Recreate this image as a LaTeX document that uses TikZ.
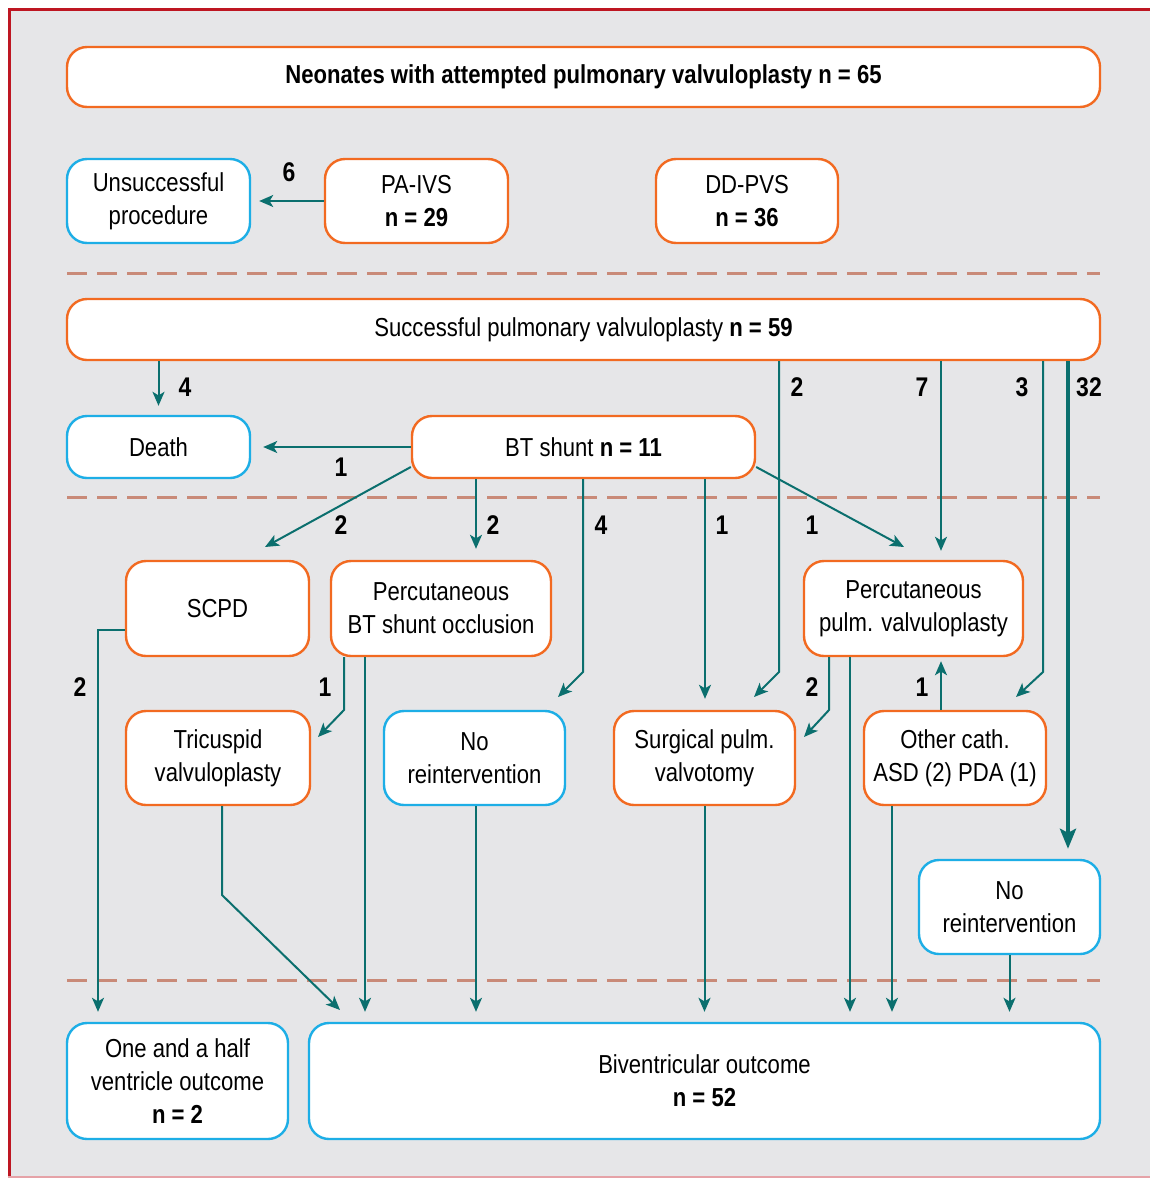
\documentclass[tikz,border=0pt]{standalone}
\usepackage{fontspec}
\setmainfont{Liberation Sans}[FakeStretch=0.85]
\usetikzlibrary{arrows.meta}

\definecolor{boxorange}{HTML}{F26A21}
\definecolor{boxblue}{HTML}{1DAEE6}
\definecolor{flowteal}{HTML}{0B6F6E}
\definecolor{sepline}{HTML}{C98A78}
\definecolor{panelgray}{HTML}{E6E6E8}
\definecolor{framered}{HTML}{BE1622}

\begin{document}
\begin{tikzpicture}[x=0.5pt,y=-0.5pt,
    obox/.style={draw=boxorange,fill=white,line width=1.2pt,rounded corners=10pt,
      align=center,font=\fontsize{13}{16.5}\selectfont,inner sep=0pt},
    bbox/.style={obox,draw=boxblue},
    arr/.style={draw=flowteal,line width=1pt,-{Stealth[length=7pt,width=6pt,inset=1.8pt]}},
    bigarr/.style={draw=flowteal,line width=2.2pt,-{Stealth[length=10pt,width=8pt,inset=2pt]}},
    lbl/.style={font=\bfseries\fontsize{13.5}{15}\selectfont,inner sep=1pt},
    sep/.style={draw=sepline,line width=1.5pt,dash pattern=on 10pt off 5pt}]
  \useasboundingbox (0,0) rectangle (1150,1179);
  % panel
  \fill[panelgray] (8,8) rectangle (1150,1177);
  \draw[framered,line width=1.5pt] (9,1177) -- (9,9) -- (1150,9);
  \draw[framered!40,line width=0.6pt] (8,1177) -- (1150,1177);
  \foreach \y in {273,497,980}
    \draw[sep] (67,\y) -- (1100,\y);

  % boxes
  \draw
    (583.5,77) node[obox,minimum width=516.5pt,minimum height=30pt] (top)
      {\bfseries Neonates with attempted pulmonary valvuloplasty n = 65}
    (158.5,201) node[bbox,minimum width=91.5pt,minimum height=42pt] (unsucc)
      {Unsuccessful\\procedure}
    (416.5,201) node[obox,minimum width=91.5pt,minimum height=42pt] (paivs)
      {PA-IVS\\\bfseries n = 29}
    (747,201) node[obox,minimum width=91pt,minimum height=42pt] (ddpvs)
      {DD-PVS\\\bfseries n = 36};
  \draw
    (583.5,329.5) node[obox,minimum width=516.5pt,minimum height=30.5pt] (succ)
      {Successful pulmonary valvuloplasty \textbf{n = 59}}
    (158.5,447) node[bbox,minimum width=91.5pt,minimum height=31pt] (death) {Death}
    (583.5,447) node[obox,minimum width=171.5pt,minimum height=31pt] (bt)
      {BT shunt \textbf{n = 11}};
  \draw
    (217.5,608.5) node[obox,minimum width=91.5pt,minimum height=47.5pt] (scpd) {SCPD}
    (441,608.5) node[obox,minimum width=110pt,minimum height=47.5pt] (pbt)
      {Percutaneous\\BT shunt occlusion}
    (913.5,608.5) node[obox,minimum width=109.5pt,minimum height=47.5pt] (ppv)
      {Percutaneous\\pulm. valvuloplasty}
    (218,758) node[obox,minimum width=92pt,minimum height=47pt] (tric)
      {Tricuspid\\valvuloplasty}
    (474.5,758) node[bbox,minimum width=90.5pt,minimum height=47pt] (noreintA)
      {No\\reintervention}
    (704.5,758) node[obox,minimum width=90.5pt,minimum height=47pt] (surg)
      {Surgical pulm.\\valvotomy}
    (955,758) node[obox,minimum width=91pt,minimum height=47pt] (other)
      {Other cath.\\ASD (2) PDA (1)}
    (1009.5,907) node[bbox,minimum width=90.5pt,minimum height=47pt] (noreintB)
      {No\\reintervention};
  \draw
    (177.5,1081) node[bbox,minimum width=110.5pt,minimum height=58pt] (onehalf)
      {One and a half\\ventricle outcome\\\bfseries n = 2}
    (704.5,1081) node[bbox,minimum width=395.5pt,minimum height=58pt] (biv)
      {Biventricular outcome\\\bfseries n = 52};

  % flows
  \draw[arr,shorten >=4pt] (paivs.west) -- (unsucc.east);
  \draw[arr,shorten >=4.5pt] (succ.south -| death.north) -- (death.north);
  \draw[arr,shorten >=6pt] (bt.west) -- (death.east);
  \draw[arr] (bt.west |- 0,467) -- (265,547);
  \draw[arr,shorten >=5.5pt] (bt.south -| 476,0) -- (pbt.north -| 476,0);
  \draw[arr] (bt.south -| 583,0) -- (583,672) -- (558,697);
  \draw[arr,shorten >=5.5pt] (bt.south -| 705,0) -- (surg.north -| 705,0);
  \draw[arr] (bt.east |- 0,467) -- (904,547);
  \draw[arr] (succ.south -| 779,0) -- (779,672) -- (754,697);
  \draw[arr,shorten >=4.5pt] (succ.south -| 941,0) -- (ppv.north -| 941,0);
  \draw[arr] (succ.south -| 1043,0) -- (1043,672) -- (1016,697);
  \draw[bigarr,shorten >=5pt] (succ.south -| 1068,0) -- (noreintB.north -| 1068,0);
  \draw[arr,shorten >=5pt] (scpd.west |- 0,630) -- (98,630) -- (onehalf.north -| 98,0);
  \draw[arr] (pbt.south -| 344,0) -- (344,710) -- (318,737);
  \draw[arr,shorten >=5pt] (pbt.south -| 365,0) -- (biv.north -| 365,0);
  \draw[arr] (tric.south -| 222,0) -- (222,895) -- (340,1010);
  \draw[arr,shorten >=5pt] (noreintA.south -| 476,0) -- (biv.north -| 476,0);
  \draw[arr,shorten >=5pt] (surg.south) -- (biv.north -| surg.south);
  \draw[arr] (ppv.south -| 829,0) -- (829,710) -- (804,737);
  \draw[arr,shorten >=5pt] (ppv.south -| 850,0) -- (biv.north -| 850,0);
  \draw[arr,shorten >=2pt] (other.north -| 941,0) -- (ppv.south -| 941,0);
  \draw[arr,shorten >=5pt] (other.south -| 892,0) -- (biv.north -| 892,0);
  \draw[arr,shorten >=5pt] (noreintB.south) -- (biv.north -| noreintB.south);

  % counts
  \node[lbl] (n6) at (289,172) {6};
  \node[lbl] (n4a) at (185,387) {4};
  \node[lbl] (n1a) at (341,467) {1};
  \node[lbl] (n2a) at (341,525) {2};
  \node[lbl] (n2b) at (493,525) {2};
  \node[lbl] (n4b) at (601,525) {4};
  \node[lbl] (n1b) at (722,525) {1};
  \node[lbl] (n1c) at (812,525) {1};
  \node[lbl] (n2c) at (797,387) {2};
  \node[lbl] (n7) at (922,387) {7};
  \node[lbl] (n3) at (1022,387) {3};
  \node[lbl] (n32) at (1089,387) {32};
  \node[lbl] (n2d) at (80,687) {2};
  \node[lbl] (n1d) at (325,687) {1};
  \node[lbl] (n2e) at (812,687) {2};
  \node[lbl] (n1e) at (922,687) {1};
\end{tikzpicture}
\end{document}
